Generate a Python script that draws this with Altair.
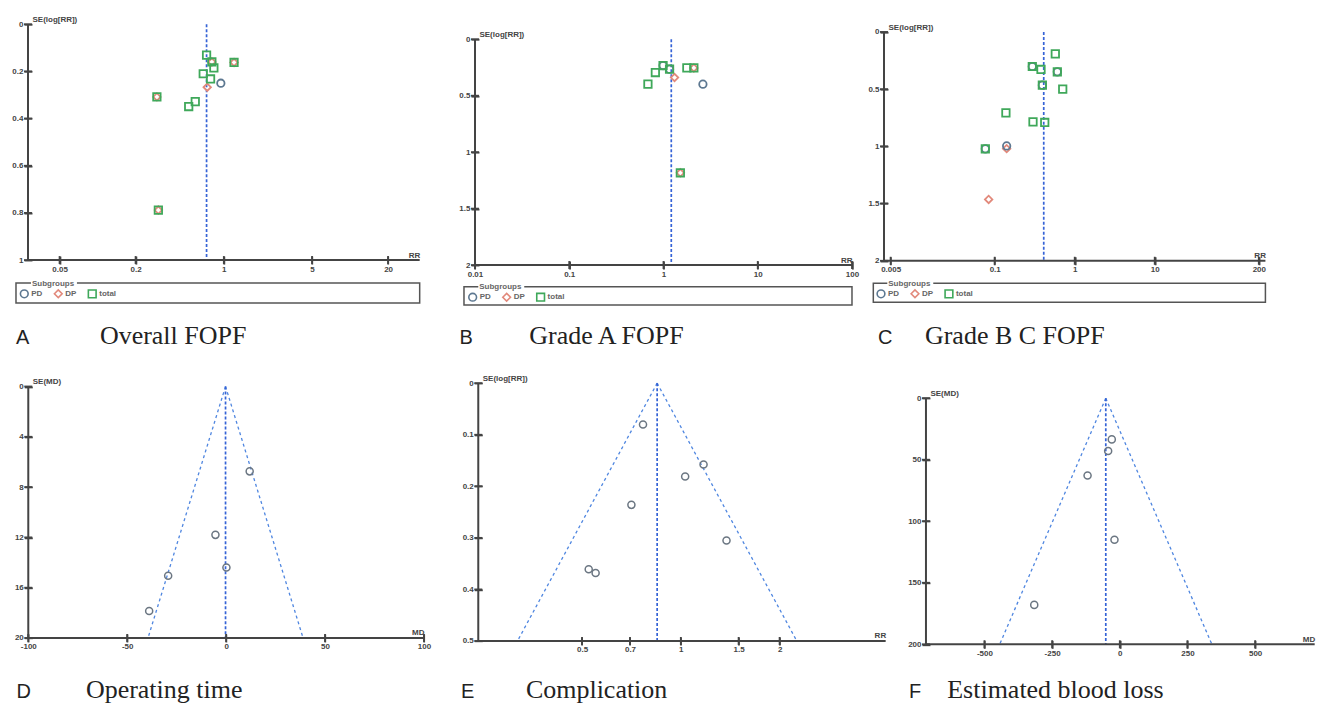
import math
import altair as alt
import pandas as pd

FONT = "Liberation Sans"
SERIF = "Liberation Serif"
AXC = "#444444"
LBLC = "#444444"

GROUPS = ["PD", "DP", "total"]
GROUP_COLORS = ["#5d7891", "#e2897b", "#3fa85a"]
GROUP_SHAPES = ["circle", "diamond", "square"]
LEGEND_TITLE = "Subgroups"

# ---------------- Panel A : Overall FOPF ----------------
A_PD_RR = [0.947]
A_PD_SE = [0.25]
A_DP_RR = [0.804, 1.205, 0.295, 0.303, 0.739]
A_DP_SE = [0.160, 0.162, 0.308, 0.788, 0.267]
A_TOT_RR = [0.73, 0.804, 1.205, 0.834, 0.687, 0.785, 0.295, 0.594, 0.527, 0.303]
A_TOT_SE = [0.131, 0.160, 0.162, 0.185, 0.21, 0.232, 0.308, 0.328, 0.349, 0.788]
A_CENTER = 0.73

# ---------------- Panel B : Grade A FOPF ----------------
B_PD_RR = [0.99, 1.16, 2.62]
B_PD_SE = [0.233, 0.265, 0.398]
B_DP_RR = [1.31, 2.1, 1.51]
B_DP_SE = [0.339, 0.254, 1.183]
B_TOT_RR = [0.99, 0.82, 1.16, 0.684, 1.77, 2.1, 1.51]
B_TOT_SE = [0.233, 0.295, 0.265, 0.398, 0.254, 0.254, 1.183]
B_CENTER = 1.21

# ---------------- Panel C : Grade B C FOPF ----------------
C_PD_RR = [0.295, 0.606, 0.394, 0.0763, 0.141]
C_PD_SE = [0.302, 0.349, 0.465, 1.022, 0.996]
C_DP_RR = [0.141, 0.084]
C_DP_SE = [1.02, 1.464]
C_TOT_RR = [0.572, 0.295, 0.379, 0.606, 0.394, 0.708, 0.138, 0.301, 0.422, 0.0763]
C_TOT_SE = [0.192, 0.302, 0.328, 0.349, 0.465, 0.5, 0.707, 0.786, 0.791, 1.022]
C_CENTER = 0.41

# ---------------- Panel D : Operating time ----------------
D_MD = [11.9, -5.4, 0.15, -29.3, -38.9]
D_SE = [6.75, 11.8, 14.4, 15.05, 17.86]
D_CENTER = -0.3

# ---------------- Panel E : Complication ----------------
E_RR = [0.767, 1.173, 1.031, 0.707, 1.378, 0.524, 0.55]
E_SE = [0.080, 0.1576, 0.181, 0.236, 0.305, 0.361, 0.368]
E_CENTER = 0.847

# ---------------- Panel F : Estimated blood loss ----------------
F_MD = [-29.5, -43, -119, -19.6, -316]
F_SE = [33.5, 43, 62.8, 115, 168]
F_CENTER = -51.7

Z = 1.96
ONE = pd.DataFrame({"k": [0]})
CW = 1325 / 3
CH = 703 / 2
LABEL_EXPR = "'' + datum.value"
TICK_HALF = 4


def grouped_df(pd_x, pd_se, dp_x, dp_se, tot_x, tot_se):
    rows = []
    for g, xs, ss in (("DP", dp_x, dp_se), ("PD", pd_x, pd_se), ("total", tot_x, tot_se)):
        rows += [{"x": a, "se": b, "grp": g} for a, b in zip(xs, ss)]
    return pd.DataFrame(rows)


def plain_df(xs, ss):
    return pd.DataFrame({"x": xs, "se": ss})


def make_panel(c):
    ox, oy = c["origin"]
    x0, x1 = c["xr"][0] - ox, c["xr"][1] - ox
    y0, y1 = c["yr"][0] - oy, c["yr"][1] - oy
    if c["xtype"] == "log":
        xs = alt.Scale(type="log", domain=c["xdom"], range=[x0, x1], nice=False)
    else:
        xs = alt.Scale(type="linear", domain=c["xdom"], range=[x0, x1], nice=False, zero=False)
    ys = alt.Scale(type="linear", domain=c["ydom"], range=[y0, y1], nice=False, zero=False)
    xa = alt.Axis(values=c["xvals"], labelExpr=LABEL_EXPR, grid=False, domain=False,
                  ticks=True, tickSize=2 * TICK_HALF, tickWidth=1.8, tickColor=AXC,
                  labelFont=FONT, labelFontSize=8, labelFontWeight="bold", labelColor=LBLC,
                  labelPadding=1, labelFlush=False, labelOverlap=False,
                  offset=y1 - TICK_HALF - CH,
                  title=c["xtitle"], titleX=x1, titleY=1, titleAlign="right",
                  titleBaseline="alphabetic", titleFont=FONT, titleFontSize=8,
                  titleFontWeight="bold", titleColor=LBLC)
    ya = alt.Axis(values=c["yvals"], labelExpr=LABEL_EXPR, grid=False, domain=False,
                  ticks=True, tickSize=2 * TICK_HALF, tickWidth=1.8, tickColor=AXC,
                  labelFont=FONT, labelFontSize=8, labelFontWeight="bold", labelColor=LBLC,
                  labelPadding=1, labelOverlap=False,
                  offset=-(x0 + TICK_HALF),
                  title=c["ytitle"], titleAngle=0, titleX=0, titleY=y0 - 2.5,
                  titleAlign="left", titleBaseline="alphabetic", titleFont=FONT,
                  titleFontSize=8, titleFontWeight="bold", titleColor=LBLC)

    def XD(v):
        return alt.XDatum(datum=v, type="quantitative", scale=xs, axis=xa)

    def YD(v):
        return alt.YDatum(datum=v, type="quantitative", scale=ys, axis=ya)

    ymin, ymax = c["ydom"]
    xmin, xmax = c["xdom"]
    cen = c["center"]
    layers = []

    # funnel (95% pseudo-confidence limits)
    if c["funnel"]:
        if c["xtype"] == "log":
            lo = cen * math.exp(-Z * ymax)
            hi = cen * math.exp(Z * ymax)
        else:
            lo = cen - Z * ymax
            hi = cen + Z * ymax
        for b in (lo, hi):
            layers.append(alt.Chart(ONE).mark_rule(color="#4f86e0", strokeWidth=1.3,
                                                    strokeDash=[3, 3]).encode(
                x=XD(cen), y=YD(ymin), x2=alt.X2Datum(datum=b), y2=alt.Y2Datum(datum=ymax)))
    # centre line
    layers.append(alt.Chart(ONE).mark_rule(color="#3563d6", strokeWidth=1.7,
                                            strokeDash=[3, 2]).encode(
        x=XD(cen), y=YD(ymin), y2=alt.Y2Datum(datum=ymax)))
    # axis lines
    layers.append(alt.Chart(ONE).mark_rule(color=AXC, strokeWidth=2).encode(
        x=XD(xmin), x2=alt.X2Datum(datum=xmax), y=YD(ymax)))
    layers.append(alt.Chart(ONE).mark_rule(color=AXC, strokeWidth=2).encode(
        x=XD(xmin), y=YD(ymin), y2=alt.Y2Datum(datum=ymax)))
    # crossing tick marks at the axis values
    layers.append(alt.Chart(pd.DataFrame({"v": c["xvals"]})).mark_rule(
        color=AXC, strokeWidth=1.8, yOffset=-TICK_HALF, y2Offset=TICK_HALF).encode(
        x=alt.X("v:Q", scale=xs, axis=xa), y=YD(ymax), y2=alt.Y2Datum(datum=ymax)))
    layers.append(alt.Chart(pd.DataFrame({"v": c["yvals"]})).mark_rule(
        color=AXC, strokeWidth=1.8, xOffset=-TICK_HALF, x2Offset=TICK_HALF).encode(
        y=alt.Y("v:Q", scale=ys, axis=ya), x=XD(xmin), x2=alt.X2Datum(datum=xmin)))

    # points
    if c["grouped"]:
        lx, ly = c["legxy"][0] - ox, c["legxy"][1] - oy
        lg = alt.Legend(orient="none", legendX=lx, legendY=ly,
                        direction="horizontal", title=None, padding=0, offset=0,
                        labelFont=FONT, labelFontSize=8, labelFontWeight="bold",
                        labelColor="#666666", labelOffset=2, columnPadding=7,
                        symbolSize=60, symbolStrokeWidth=1.6)
        layers.append(alt.Chart(c["df"]).mark_point(filled=False, size=55, strokeWidth=1.8,
                                                    opacity=1).encode(
            x=alt.X("x:Q", scale=xs, axis=xa),
            y=alt.Y("se:Q", scale=ys, axis=ya),
            color=alt.Color("grp:N", scale=alt.Scale(domain=GROUPS, range=GROUP_COLORS), legend=lg),
            shape=alt.Shape("grp:N", scale=alt.Scale(domain=GROUPS, range=GROUP_SHAPES), legend=lg),
        ))
        bx0, bx1 = c["box"][0] - ox, c["box"][1] - ox
        by0, by1 = c["box"][2] - oy, c["box"][3] - oy
        tx = c["subx"] - ox
        layers.append(alt.Chart(ONE).mark_rect(fill="transparent", stroke="#555555",
                                                strokeWidth=1.5).encode(
            x=alt.value(bx0), x2=alt.value(bx1), y=alt.value(by0), y2=alt.value(by1)))
        layers.append(alt.Chart(ONE).mark_rect(fill="white").encode(
            x=alt.value(tx - 1), x2=alt.value(tx + 45), y=alt.value(by0 - 3), y2=alt.value(by0 + 3)))
        layers.append(alt.Chart(pd.DataFrame({"t": [LEGEND_TITLE]})).mark_text(
            align="left", baseline="middle", font=FONT, fontSize=8, fontWeight="bold",
            color="#666666").encode(text="t:N", x=alt.value(tx), y=alt.value(by0 + 0.5)))
    else:
        layers.append(alt.Chart(c["df"]).mark_point(filled=False, size=50, strokeWidth=1.5,
                                                    color="#6b7682", opacity=1).encode(
            x=alt.X("x:Q", scale=xs, axis=xa),
            y=alt.Y("se:Q", scale=ys, axis=ya)))

    # caption
    lx, tx2, cy = c["cap"][0] - ox, c["cap"][1] - ox, c["cap"][2] - oy
    layers.append(alt.Chart(pd.DataFrame({"t": [c["letter"]]})).mark_text(
        align="left", baseline="alphabetic", font=FONT, fontSize=20, color="#222222").encode(
        text="t:N", x=alt.value(lx), y=alt.value(cy)))
    layers.append(alt.Chart(pd.DataFrame({"t": [c["title"]]})).mark_text(
        align="left", baseline="alphabetic", font=SERIF, fontSize=26, color="#222222").encode(
        text="t:N", x=alt.value(tx2), y=alt.value(cy)))

    return alt.layer(*layers).properties(width=CW, height=CH)


RR_LOG_TITLE = "SE(log[RR])"

panels = [
    dict(origin=(0, 0), xr=(28, 420), yr=(24, 260), xtype="log", xdom=[0.0281, 35.6], ydom=[0, 1],
         xvals=[0.05, 0.2, 1, 5, 20], yvals=[0, 0.2, 0.4, 0.6, 0.8, 1], xtitle="RR",
         ytitle=RR_LOG_TITLE, center=A_CENTER, funnel=False, grouped=True,
         df=grouped_df(A_PD_RR, A_PD_SE, A_DP_RR, A_DP_SE, A_TOT_RR, A_TOT_SE),
         legxy=(19.3, 288.3), box=(16, 420, 283, 303), subx=32,
         letter="A", title="Overall FOPF", cap=(16, 100, 344)),
    dict(origin=(CW, 0), xr=(475, 852.3), yr=(39, 265), xtype="log", xdom=[0.01, 100], ydom=[0, 2],
         xvals=[0.01, 0.1, 1, 10, 100], yvals=[0, 0.5, 1, 1.5, 2], xtitle="RR",
         ytitle=RR_LOG_TITLE, center=B_CENTER, funnel=False, grouped=True,
         df=grouped_df(B_PD_RR, B_PD_SE, B_DP_RR, B_DP_SE, B_TOT_RR, B_TOT_SE),
         legxy=(467.7, 291.7), box=(464, 852.3, 286.7, 305), subx=479.3,
         letter="B", title="Grade A FOPF", cap=(459.5, 529.3, 344)),
    dict(origin=(2 * CW, 0), xr=(884, 1265.7), yr=(31.7, 260.7), xtype="log", xdom=[0.00413, 242],
         ydom=[0, 2], xvals=[0.005, 0.1, 1, 10, 200], yvals=[0, 0.5, 1, 1.5, 2], xtitle="RR",
         ytitle=RR_LOG_TITLE, center=C_CENTER, funnel=False, grouped=True,
         df=grouped_df(C_PD_RR, C_PD_SE, C_DP_RR, C_DP_SE, C_TOT_RR, C_TOT_SE),
         legxy=(876, 288.3), box=(873.3, 1265.7, 283.3, 302.3), subx=888.3,
         letter="C", title="Grade B C FOPF", cap=(878, 925, 344)),
    dict(origin=(0, CH), xr=(28.3, 424.3), yr=(386, 637.7), xtype="linear", xdom=[-100, 100],
         ydom=[0, 20], xvals=[-100, -50, 0, 50, 100], yvals=[0, 4, 8, 12, 16, 20], xtitle="MD",
         ytitle="SE(MD)", center=D_CENTER, funnel=True, grouped=False, df=plain_df(D_MD, D_SE),
         letter="D", title="Operating time", cap=(16.5, 86, 698)),
    dict(origin=(CW, CH), xr=(478.3, 886), yr=(382.7, 640.7), xtype="log", xdom=[0.2414, 4.21],
         ydom=[0, 0.5], xvals=[0.5, 0.7, 1, 1.5, 2], yvals=[0, 0.1, 0.2, 0.3, 0.4, 0.5],
         xtitle="RR", ytitle=RR_LOG_TITLE, center=E_CENTER, funnel=True, grouped=False,
         df=plain_df(E_RR, E_SE), letter="E", title="Complication", cap=(461, 526, 698)),
    dict(origin=(2 * CW, CH), xr=(926, 1315), yr=(397.7, 644), xtype="linear", xdom=[-716, 720],
         ydom=[0, 200], xvals=[-500, -250, 0, 250, 500], yvals=[0, 50, 100, 150, 200], xtitle="MD",
         ytitle="SE(MD)", center=F_CENTER, funnel=True, grouped=False, df=plain_df(F_MD, F_SE),
         letter="F", title="Estimated blood loss", cap=(909, 947.3, 698)),
]

chart = alt.concat(*[make_panel(p) for p in panels], columns=3, spacing=0, bounds="flush").resolve_scale(
    color="independent", shape="independent").resolve_legend(
    color="independent", shape="independent").properties(
    padding=0, background="white").configure_view(strokeWidth=0, stroke="transparent")

chart.save("out.html", embed_options={"renderer": "svg", "actions": False})
